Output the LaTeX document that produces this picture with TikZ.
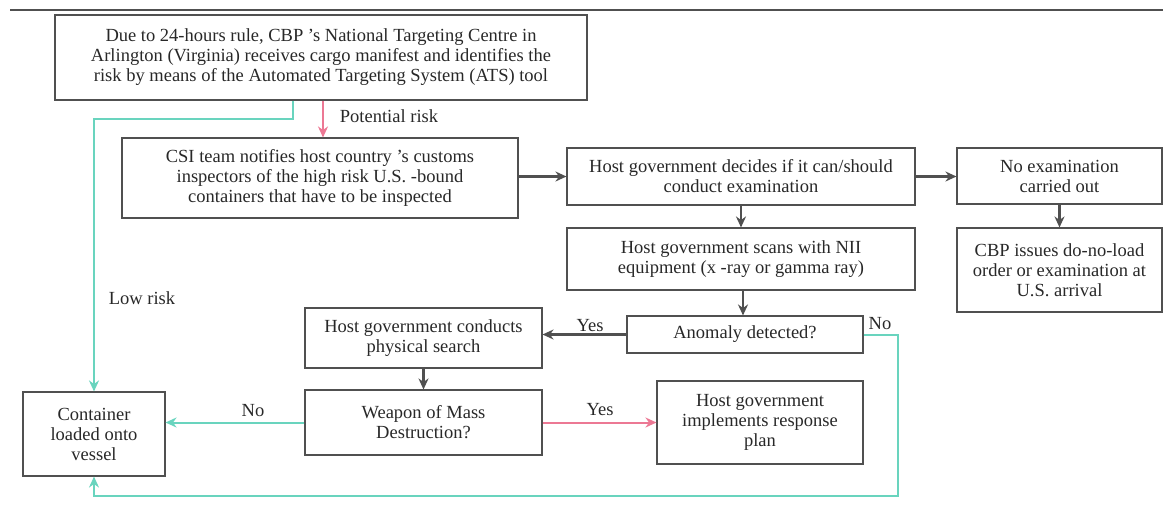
\documentclass[tikz,border=0pt]{standalone}
\usepackage{fontspec}
\setmainfont{Liberation Serif}
\usepackage{tikz}
\usetikzlibrary{arrows.meta}
\definecolor{inkgray}{RGB}{40,40,40}
\definecolor{linegray}{RGB}{80,80,80}
\definecolor{teal}{RGB}{105,212,190}
\definecolor{rose}{RGB}{236,120,148}
\tikzstyle{box}=[rectangle, draw=linegray, line width=1.1pt, align=center, text=inkgray, inner sep=2pt, font=\fontsize{18.5}{20}\selectfont]
\tikzstyle{lbl}=[text=inkgray, inner sep=1pt, font=\fontsize{18.5}{20}\selectfont]
\tikzstyle{flow}=[draw=linegray, line width=2.2pt, -{Stealth[length=11pt,width=10pt]}]
\tikzstyle{lowpath}=[draw=teal, line width=2pt, -{Stealth[length=11pt,width=10pt]}]
\tikzstyle{highpath}=[draw=rose, line width=2pt, -{Stealth[length=11pt,width=10pt]}]

\begin{document}
\begin{tikzpicture}[x=1pt, y=-1pt]
                \useasboundingbox (0,0) rectangle (1163,507);
                \draw[linegray, line width=2pt] (10,10) -- (1163,10);
                \node[box, minimum width=532, minimum height=85] (manifest) at (321, 57.5) {Due to 24-hours rule, CBP ’s National Targeting Centre in\\Arlington (Virginia) receives cargo manifest and identifies the\\risk by means of the Automated Targeting System (ATS) tool};
                \node[box, minimum width=396, minimum height=80] (csi) at (320, 178) {CSI team notifies host country ’s customs\\inspectors of the high risk U.S. -bound\\containers that have to be inspected};
                \node[box, minimum width=348, minimum height=57] (decide) at (741, 176.5) {Host government decides if it can/should\\conduct examination};
                \node[box, minimum width=205, minimum height=56] (noexam) at (1059.5, 176) {No examination\\carried out};
                \node[box, minimum width=348, minimum height=62] (scan) at (741, 259) {Host government scans with NII\\equipment (x -ray or gamma ray)};
                \node[box, minimum width=205, minimum height=84] (cbp) at (1059.5, 270) {CBP issues do-no-load\\order or examination at\\U.S. arrival};
                \node[box, minimum width=236, minimum height=37] (anomaly) at (745, 334.5) {Anomaly detected?};
                \node[box, minimum width=237, minimum height=60] (search) at (423.5, 338) {Host government conducts\\physical search};
                \node[box, minimum width=237, minimum height=65] (wmd) at (423.5, 422.5) {Weapon of Mass\\Destruction?};
                \node[box, minimum width=206, minimum height=83] (plan) at (760, 422.5) {Host government\\implements response\\plan};
                \node[box, minimum width=142, minimum height=84] (vessel) at (94, 434) {Container\\loaded onto\\vessel};
                \node[lbl] (potential) at (389, 116) {Potential risk};
                \node[lbl] (lowrisk) at (142, 298) {Low risk};
                \node[lbl] (yesa) at (590, 326) {Yes};
                \node[lbl] (noa) at (880, 324) {No};
                \node[lbl] (nowmd) at (253, 411) {No};
                \node[lbl] (yeswmd) at (600, 410) {Yes};
                \draw[highpath] ([xshift=2pt]manifest.south) -- ([xshift=3pt]csi.north);
                \draw[lowpath] ([xshift=-28pt]manifest.south) -- ++(0,18) -| (vessel.north);
                \draw[flow] (csi.east |- decide.west) -- (decide.west);
                \draw[flow] (decide.east) -- (decide.east -| noexam.west);
                \draw[flow] (noexam.south) -- (cbp.north);
                \draw[flow] (decide.south) -- (scan.north);
                \draw[flow] ([xshift=2pt]scan.south) -- ([xshift=-2pt]anomaly.north);
                \draw[flow] (anomaly.west) -- (anomaly.west -| search.east);
                \draw[flow] (search.south) -- (wmd.north);
                \draw[lowpath] (wmd.west) -- (wmd.west -| vessel.east);
                \draw[highpath] (wmd.east) -- (wmd.east -| plan.west);
                \draw[lowpath] (anomaly.east) -- ++(34,0) -- ++(0,161) -| (vessel.south);
            \end{tikzpicture}
\end{document}
